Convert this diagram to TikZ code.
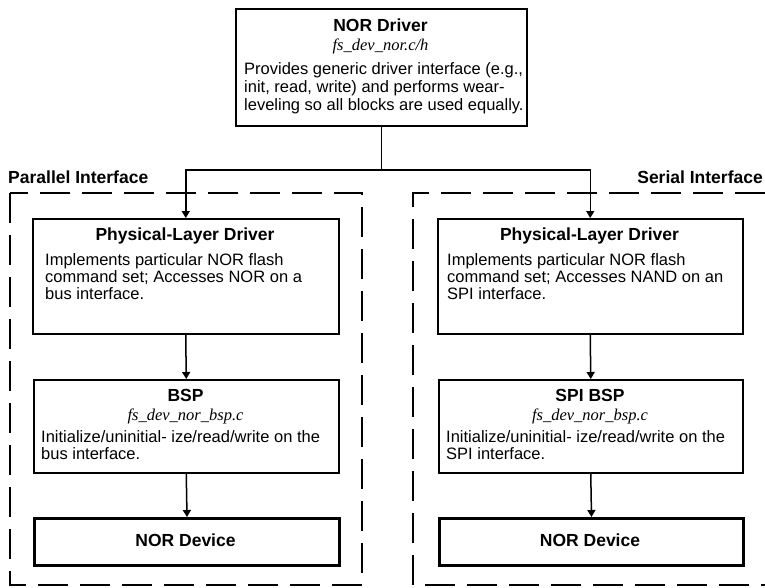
\documentclass[tikz,border=0pt]{standalone}
\usepackage{fontspec}
\setmainfont{Liberation Sans}
\newfontfamily\serifit{Liberation Serif}
\usetikzlibrary{arrows.meta}
\tikzset{
  box/.style={draw=black, line width=1.5pt, fill=white, inner sep=0pt, anchor=north west},
  devbox/.style={box, line width=3pt},
  dashbox/.style={draw=black, line width=1.5pt, dash pattern=on 30pt off 12pt},
  conn/.style={draw=black, line width=1.5pt},
  arr/.style={conn, -{Triangle[length=7pt,width=8pt]}},
  titlet/.style={inner sep=0pt, anchor=base, font=\bfseries\fontsize{17.5}{20}\selectfont},
  filet/.style={inner sep=0pt, anchor=base, font=\serifit\itshape\fontsize{16.5}{18}\selectfont},
  bodyt/.style={inner sep=0pt, anchor=base west, font=\fontsize{16.5}{18}\selectfont},
}
\begin{document}
\begin{tikzpicture}[x=1pt,y=-1pt]
\useasboundingbox (0,0) rectangle (765,587);
% dashed interface frames
\draw[dashbox] (10,193) rectangle (362,585);
\draw[dashbox] (765,193) -- (413,193) -- (413,585) -- (765,585);
\node[inner sep=0pt, anchor=base west, font=\bfseries\fontsize{17.5}{20}\selectfont] (plab) at (8,183) {Parallel Interface};
\node[inner sep=0pt, anchor=base east, font=\bfseries\fontsize{17.5}{20}\selectfont] (slab) at (763,183) {Serial Interface};
% top box
\node[box, minimum width=291pt, minimum height=117pt] (nor) at (235,8) {};
\node[titlet] (norT) at (380.5,31) {NOR Driver};
\node[filet] (norF) at (380.5,50) {fs\_dev\_nor.c/h};
\node[bodyt] (norB1) at (244,74) {Provides generic driver interface (e.g.,};
\node[bodyt] (norB2) at (244,92) {init, read, write) and performs wear-};
\node[bodyt] (norB3) at (244,110) {leveling so all blocks are used equally.};
% left column
\node[box, minimum width=306pt, minimum height=115pt] (phys1) at (32,218) {};
\node[titlet] (phys1T) at (185,240) {Physical-Layer Driver};
\node[bodyt] (phys1B1) at (45,265) {Implements particular NOR flash};
\node[bodyt] (phys1B2) at (45,282) {command set; Accesses NOR on a};
\node[bodyt] (phys1B3) at (45,299) {bus interface.};
\node[box, minimum width=305pt, minimum height=93pt] (bsp1) at (33,379) {};
\node[titlet] (bsp1T) at (185.5,401) {BSP};
\node[filet] (bsp1F) at (185.5,420) {fs\_dev\_nor\_bsp.c};
\node[bodyt] (bsp1B1) at (41,442) {Initialize/uninitial- ize/read/write on the};
\node[bodyt] (bsp1B2) at (41,459) {bus interface.};
\node[devbox, minimum width=305pt, minimum height=47pt] (dev1) at (33,517) {};
\node[titlet] (dev1T) at (185.5,546) {NOR Device};
% right column
\node[box, minimum width=305pt, minimum height=115pt] (phys2) at (437,218) {};
\node[titlet] (phys2T) at (589.5,240) {Physical-Layer Driver};
\node[bodyt] (phys2B1) at (447,265) {Implements particular NOR flash};
\node[bodyt] (phys2B2) at (447,282) {command set; Accesses NAND on an};
\node[bodyt] (phys2B3) at (447,299) {SPI interface.};
\node[box, minimum width=304pt, minimum height=93pt] (bsp2) at (438,379) {};
\node[titlet] (bsp2T) at (590,401) {SPI BSP};
\node[filet] (bsp2F) at (590,420) {fs\_dev\_nor\_bsp.c};
\node[bodyt] (bsp2B1) at (446,442) {Initialize/uninitial- ize/read/write on the};
\node[bodyt] (bsp2B2) at (446,459) {SPI interface.};
\node[devbox, minimum width=304pt, minimum height=47pt] (dev2) at (438,517) {};
\node[titlet] (dev2T) at (590,546) {NOR Device};
% connectors
\coordinate (j) at (nor.south |- 0,170);
\draw[conn] (nor.south) -- (j);
\draw[arr] (j) -| (phys1.north);
\draw[arr] (j) -| (phys2.north);
\draw[arr] (phys1.south) -- (bsp1.north);
\draw[arr] (bsp1.south) -- (dev1.north);
\draw[arr] (phys2.south) -- (bsp2.north);
\draw[arr] (bsp2.south) -- (dev2.north);
\end{tikzpicture}
\end{document}
